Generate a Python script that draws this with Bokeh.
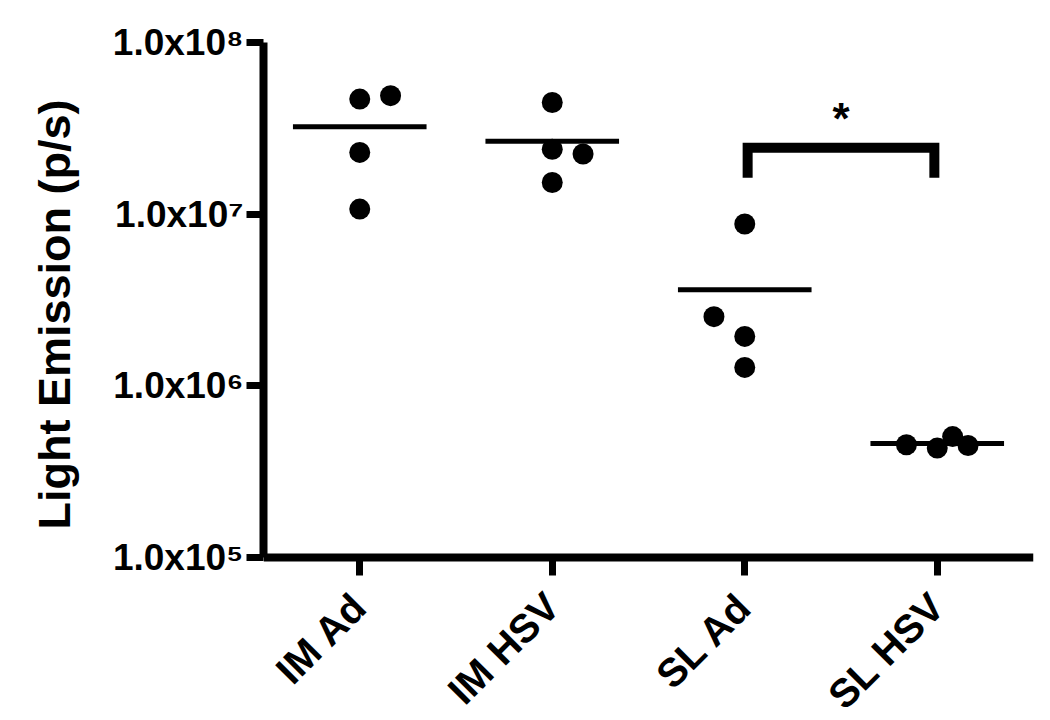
import math
import numpy as np
from bokeh.plotting import figure
from bokeh.models import Range1d, FixedTicker, Title
from bokeh.core.properties import value
from bokeh.embed import file_html
from bokeh.resources import INLINE

# ---- data ----
categories = ["IM Ad", "IM HSV", "SL Ad", "SL HSV"]
im_ad = [4.68e7, 4.90e7, 2.29e7, 1.07e7]
im_hsv = [4.47e7, 2.39e7, 2.24e7, 1.53e7]
sl_ad = [8.76e6, 2.53e6, 1.94e6, 1.28e6]
sl_hsv = [4.54e5, 4.34e5, 5.06e5, 4.49e5]
# horizontal scatter offsets of the points (category units)
jitter = [
    [0.0, 0.16, 0.0, 0.0],
    [0.0, 0.0, 0.16, 0.0],
    [0.0, -0.16, 0.0, 0.0],
    [-0.16, 0.0, 0.08, 0.16],
]
y_ticks = [1e5, 1e6, 1e7, 1e8]
y_tick_labels = ["1.0x10\u2075", "1.0x10\u2076", "1.0x10\u2077", "1.0x10\u2078"]
y_title = "Light Emission (p/s)"
# significance annotation
sig_pair = ("SL Ad", "SL HSV")
sig_top = 2.44e7
sig_leg = 1.63e7
sig_text = "*"
sig_text_y = 3.6e7

groups = [im_ad, im_hsv, sl_ad, sl_hsv]
FONT = "Liberation Sans"

# layout: plotted decades occupy AXIS_PX pixels; the frame continues BELOW_PX
# pixels under the x axis so the rotated category labels fit inside it
W, H = 1040, 718
TOP, LEFT, RIGHT, BOTTOM = 42, 260, 7, 0
AXIS_PX = 515
BELOW_PX = H - TOP - BOTTOM - AXIS_PX
decades = math.log10(y_ticks[-1] / y_ticks[0])
y_low = 10 ** (math.log10(y_ticks[0]) - BELOW_PX * decades / AXIS_PX)

p = figure(width=W, height=H, y_axis_type="log",
           x_range=Range1d(0, len(categories)), y_range=Range1d(y_low, y_ticks[-1]),
           output_backend="svg", toolbar_location=None,
           min_border_left=LEFT, min_border_right=RIGHT,
           min_border_top=TOP, min_border_bottom=BOTTOM)
p.outline_line_color = None
p.xgrid.visible = False
p.ygrid.visible = False
p.background_fill_color = "white"

# points
xs, ys = [], []
for i, (g, off) in enumerate(zip(groups, jitter)):
    for v, o in zip(g, off):
        xs.append(i + 0.5 + o)
        ys.append(v)
p.scatter(x=xs, y=ys, size=21, marker="circle", fill_color="black", line_color=None)

# mean lines
means = [float(np.mean(g)) for g in groups]
half = 0.347
cx = [i + 0.5 for i in range(len(categories))]
p.segment(x0=[c - half for c in cx], x1=[c + half for c in cx], y0=means, y1=means,
          line_color="black", line_width=5)

# significance bracket
i0 = categories.index(sig_pair[0]) + 0.5 + 0.015
i1 = categories.index(sig_pair[1]) + 0.5 - 0.015
p.line(x=[i0, i0, i1, i1], y=[sig_leg, sig_top, sig_top, sig_leg],
       line_color="black", line_width=10, line_join="miter", line_cap="butt")
p.text(x=[(i0 + i1) / 2], y=[sig_text_y], text=[sig_text], text_font=value(FONT),
       text_font_style="bold", text_font_size="44px", text_align="center",
       text_baseline="alphabetic", text_color="black")

# axes
for ax in (p.xaxis[0], p.yaxis[0]):
    ax.axis_line_width = 8
    ax.axis_line_color = "black"
    ax.major_tick_line_width = 7
    ax.major_tick_line_color = "black"
    ax.major_tick_in = 0
    ax.minor_tick_line_color = None
    ax.major_label_text_font = FONT
    ax.major_label_text_font_style = "bold"
    ax.major_label_text_color = "black"

xa = p.xaxis[0]
xa.fixed_location = y_ticks[0]
xa.ticker = FixedTicker(ticks=cx)
xa.major_label_overrides = {c: name for c, name in zip(cx, categories)}
xa.major_label_orientation = math.pi / 4
xa.major_label_text_font_size = "40px"
xa.major_tick_out = 18
xa.major_label_standoff = 24

ya = p.yaxis[0]
ya.bounds = (y_ticks[0], y_ticks[-1])
ya.ticker = FixedTicker(ticks=y_ticks, minor_ticks=[])
ya.major_label_overrides = {t: s for t, s in zip(y_ticks, y_tick_labels)}
ya.major_label_text_font_size = "37px"
ya.major_tick_out = 17
ya.major_label_standoff = 3

# y axis title, starting a little above the x axis and reading upwards
ytitle = Title(text=y_title, align="left", vertical_align="top",
               offset=BELOW_PX + 28,
               text_font=FONT, text_font_style="bold", text_font_size="45px",
               text_color="black", standoff=56)
p.add_layout(ytitle, "left")

open("out.html", "w").write(file_html(p, INLINE))
